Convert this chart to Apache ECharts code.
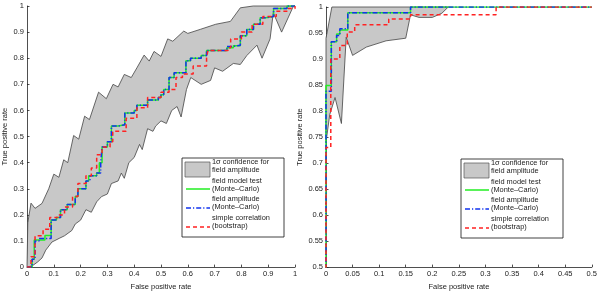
<!DOCTYPE html>
<html><head><meta charset="utf-8">
<script src="https://cdn.jsdelivr.net/npm/echarts@6/dist/echarts.min.js"></script>
<style>html,body{margin:0;padding:0;background:#fff}#c{width:600px;height:296px}</style>
</head><body><div id="c"></div>
<script>
// ---- Left panel data: [false positive rate, true positive rate]
const leftBandUpper = [[0,0],[0.003,0.17],[0.015,0.245],[0.03,0.225],[0.056,0.244],[0.081,0.30],[0.10,0.356],[0.119,0.344],[0.137,0.411],[0.152,0.40],[0.174,0.504],[0.193,0.49],[0.215,0.578],[0.233,0.565],[0.267,0.670],[0.296,0.645],[0.321,0.70],[0.34,0.69],[0.363,0.738],[0.389,0.726],[0.41,0.763],[0.437,0.812],[0.456,0.789],[0.474,0.826],[0.50,0.807],[0.525,0.874],[0.544,0.865],[0.585,0.904],[0.60,0.895],[0.648,0.911],[0.704,0.93],[0.759,0.941],[0.796,0.993],[0.844,1.0],[1,1]];
const leftBandLower = [[0,0],[0.02,0.005],[0.04,0.02],[0.056,0.035],[0.07,0.065],[0.093,0.096],[0.12,0.11],[0.14,0.12],[0.167,0.14],[0.18,0.165],[0.2,0.18],[0.22,0.22],[0.24,0.21],[0.26,0.25],[0.278,0.27],[0.3,0.28],[0.315,0.32],[0.34,0.33],[0.352,0.36],[0.363,0.34],[0.38,0.40],[0.40,0.42],[0.42,0.47],[0.43,0.45],[0.45,0.53],[0.47,0.52],[0.48,0.54],[0.50,0.56],[0.52,0.55],[0.54,0.60],[0.56,0.615],[0.575,0.575],[0.595,0.68],[0.611,0.726],[0.65,0.70],[0.685,0.715],[0.70,0.763],[0.73,0.75],[0.77,0.78],[0.796,0.776],[0.82,0.81],[0.858,0.85],[0.877,0.80],[0.907,0.874],[0.919,0.974],[0.95,0.90],[0.993,0.997],[1,1]];
const leftGreen = [[0,0],[0.019,0.03],[0.027,0.104],[0.067,0.121],[0.09,0.18],[0.11,0.19],[0.125,0.22],[0.15,0.24],[0.18,0.27],[0.19,0.30],[0.22,0.33],[0.23,0.35],[0.26,0.36],[0.27,0.40],[0.28,0.46],[0.30,0.48],[0.315,0.54],[0.34,0.545],[0.365,0.59],[0.40,0.60],[0.41,0.62],[0.45,0.64],[0.49,0.65],[0.50,0.66],[0.51,0.68],[0.53,0.726],[0.549,0.744],[0.593,0.79],[0.61,0.80],[0.65,0.81],[0.67,0.83],[0.746,0.84],[0.77,0.848],[0.796,0.886],[0.82,0.91],[0.845,0.93],[0.87,0.955],[0.89,0.96],[0.92,0.99],[0.97,1.0],[1,1]];
const leftBlue = [[0,0],[0.019,0.03],[0.03,0.10],[0.045,0.11],[0.09,0.18],[0.11,0.19],[0.125,0.22],[0.15,0.24],[0.18,0.27],[0.19,0.30],[0.22,0.33],[0.235,0.35],[0.26,0.36],[0.275,0.40],[0.28,0.46],[0.30,0.48],[0.315,0.54],[0.34,0.545],[0.365,0.59],[0.40,0.60],[0.41,0.62],[0.45,0.64],[0.49,0.65],[0.50,0.66],[0.51,0.68],[0.53,0.726],[0.549,0.744],[0.593,0.79],[0.61,0.80],[0.65,0.81],[0.67,0.83],[0.746,0.845],[0.77,0.85],[0.796,0.886],[0.82,0.91],[0.845,0.93],[0.87,0.955],[0.89,0.96],[0.92,0.99],[0.97,1.0],[1,1]];
const leftRed = [[0,0],[0.015,0.04],[0.03,0.12],[0.06,0.145],[0.085,0.19],[0.12,0.20],[0.14,0.23],[0.17,0.27],[0.19,0.32],[0.22,0.35],[0.24,0.38],[0.26,0.43],[0.28,0.46],[0.31,0.48],[0.32,0.52],[0.37,0.57],[0.41,0.61],[0.45,0.65],[0.50,0.67],[0.53,0.68],[0.556,0.726],[0.58,0.74],[0.62,0.77],[0.67,0.80],[0.675,0.83],[0.75,0.84],[0.76,0.874],[0.80,0.90],[0.84,0.93],[0.88,0.96],[0.93,0.98],[0.97,0.99],[1,1]];
// ---- Right panel data
const rightBandUpper = [[0,0.74],[0,0.94],[0.011,1.0],[0.23,1.0]];
const rightBandLower = [[0,0.74],[0.007,0.793],[0.017,0.826],[0.029,0.776],[0.038,0.942],[0.05,0.907],[0.076,0.923],[0.113,0.935],[0.15,0.94],[0.159,0.985],[0.175,0.98],[0.2,0.98],[0.218,0.988],[0.23,1.0]];
const rightGreen = [[0,0],[0,0.849],[0.01,0.933],[0.02,0.948],[0.026,0.956],[0.041,0.989],[0.159,1.0],[0.5,1.0]];
const rightBlue = [[0,0],[0,0.838],[0.01,0.933],[0.02,0.945],[0.026,0.958],[0.041,0.989],[0.159,1.0],[0.5,1.0]];
const rightRed = [[0,0],[0,0.73],[0.009,0.90],[0.026,0.926],[0.04,0.952],[0.054,0.966],[0.118,0.977],[0.159,0.985],[0.32,1.0],[0.5,1.0]];

const legendLabels = [["1\u03c3 confidence for","field amplitude"],["field model test","(Monte\u2013Carlo)"],["field amplitude","(Monte\u2013Carlo)"],["simple correlation","(bootstrap)"]];

const FONT = 'Liberation Sans, Arial, sans-serif';
const GREEN = '#22ee22', BLUE = '#1133ee', RED = '#ff2222', BANDFILL = '#c8c8c8';

function polygon(upper, lower) {
  return upper.concat(lower.slice().reverse());
}
function bandSeries(idx, pts) {
  return {
    type: 'custom', xAxisIndex: idx, yAxisIndex: idx, z: 1, silent: true,
    data: [[pts[0][0], pts[0][1]]],
    renderItem: function (params, api) {
      return { type: 'polygon', shape: { points: pts.map(p => api.coord(p)) },
        style: { fill: BANDFILL, stroke: '#444', lineWidth: 0.8 } };
    }
  };
}
function lineSeries(idx, data, color, type, z) {
  return { type: 'line', xAxisIndex: idx, yAxisIndex: idx, data: data, step: 'end', showSymbol: false, z: z,
    clip: true, lineStyle: { color: color, width: 1.5, type: type, cap: 'butt' } };
}
function axisCommon(min, max, interval) {
  return { type: 'value', min: min, max: max, interval: interval,
    axisLine: { show: true, lineStyle: { color: '#222', width: 0.8 } },
    axisTick: { show: true, inside: true, length: 2.5, lineStyle: { color: '#222', width: 0.8 } },
    splitLine: { show: false },
    axisLabel: { fontSize: 7.5, color: '#222', fontFamily: FONT, margin: 3 },
    nameLocation: 'middle', nameTextStyle: { fontSize: 7.5, color: '#222', fontFamily: FONT } };
}
function legendGraphic(bx, by) {
  const els = [];
  els.push({ type: 'rect', shape: { x: bx, y: by, width: 102, height: 79 }, style: { fill: '#fff', stroke: '#111', lineWidth: 0.8 }, z: 100 });
  els.push({ type: 'rect', shape: { x: bx + 3, y: by + 4, width: 25, height: 15 }, style: { fill: BANDFILL, stroke: '#555', lineWidth: 0.7 }, z: 101 });
  const lineY = [by + 31, by + 50, by + 69];
  const styles = [[GREEN, null], [BLUE, [5, 2, 1.2, 2]], [RED, [4, 3]]];
  for (let i = 0; i < 3; i++) {
    els.push({ type: 'line', shape: { x1: bx + 4, y1: lineY[i], x2: bx + 28, y2: lineY[i] },
      style: { stroke: styles[i][0], lineWidth: 1.5, lineDash: styles[i][1] }, z: 101 });
  }
  const textY = [by + 8, by + 27, by + 45, by + 64];
  for (let i = 0; i < 4; i++) {
    els.push({ type: 'text', x: bx + 30, y: textY[i], z: 101,
      style: { text: legendLabels[i][0] + '\n' + legendLabels[i][1], fontSize: 7.4, lineHeight: 8.2, fill: '#222', fontFamily: FONT, verticalAlign: 'middle' } });
  }
  return els;
}

const chart = echarts.init(document.getElementById('c'), null, { renderer: 'canvas' });
chart.setOption({
  animation: false,
  backgroundColor: '#fff',
  grid: [
    { left: 25, top: 6, width: 270, height: 270 },
    { left: 326, top: 7, width: 269, height: 268 }
  ],
  xAxis: [
    Object.assign(axisCommon(0, 1, 0.1), { gridIndex: 0, name: 'False positive rate', nameGap: 13 }),
    Object.assign(axisCommon(0, 0.5, 0.05), { gridIndex: 1, name: 'False positive rate', nameGap: 14 })
  ],
  yAxis: [
    Object.assign(axisCommon(0, 1, 0.1), { gridIndex: 0, name: 'True positive rate', nameGap: 18 }),
    Object.assign(axisCommon(0.5, 1, 0.05), { gridIndex: 1, name: 'True positive rate', nameGap: 22 })
  ],
  series: [
    bandSeries(0, polygon(leftBandUpper, leftBandLower)),
    lineSeries(0, leftGreen, GREEN, 'solid', 3),
    lineSeries(0, leftBlue, BLUE, [5, 2, 1.2, 2], 4),
    lineSeries(0, leftRed, RED, [4, 3], 5),
    bandSeries(1, polygon(rightBandUpper, rightBandLower)),
    lineSeries(1, rightGreen, GREEN, 'solid', 3),
    lineSeries(1, rightBlue, BLUE, [5, 2, 1.2, 2], 4),
    lineSeries(1, rightRed, RED, [4, 3], 5)
  ],
  graphic: legendGraphic(182, 158).concat(legendGraphic(461, 159))
});
</script></body></html>
